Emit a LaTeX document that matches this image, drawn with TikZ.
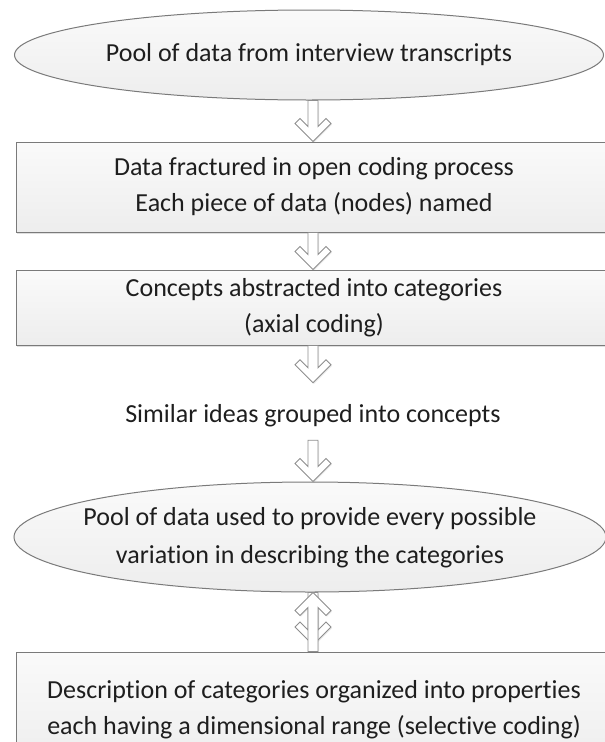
\documentclass[tikz,border=0pt]{standalone}
\usepackage{fontspec}
\setmainfont[Ligatures=NoCommon]{Carlito}
\usetikzlibrary{shapes.geometric,shadows,calc}

\definecolor{edgegray}{HTML}{7A7A7A}
\definecolor{arrowgray}{HTML}{8E8E8E}
\definecolor{inkgray}{HTML}{1E1E1E}

\tikzset{
  plain/.style={text=inkgray, font=\fontsize{26}{36}\selectfont, align=center, inner sep=0pt},
  base/.style={draw=edgegray, line width=1pt, top color=gray!4, bottom color=gray!14,
               inner sep=0pt},
  oval/.style={base, ellipse},
  stepbox/.style={base, plain, rectangle, minimum width=596pt,
                  drop shadow={shadow xshift=1.2pt, shadow yshift=-1.5pt, opacity=0.25}},
  arrowbody/.style={draw=arrowgray, fill=white, line width=0.9pt, line join=miter,
                    drop shadow={shadow xshift=1pt, shadow yshift=-1pt, opacity=0.18}}
}

% hollow block arrow from point #1 to tip #2; #3 = 1 points down, -1 points up
\newcommand{\blockarrow}[3]{%
  \path[arrowbody] let \p1=#1, \p2=#2 in
    ({\x2-5pt},\y1) -- ({\x2-5pt},{\y2+(#3)*15pt}) -- ({\x2-13pt},{\y2+(#3)*23pt})
    -- ({\x2-18pt},{\y2+(#3)*18pt}) -- (\x2,\y2) -- ({\x2+18pt},{\y2+(#3)*18pt})
    -- ({\x2+13pt},{\y2+(#3)*23pt}) -- ({\x2+5pt},{\y2+(#3)*15pt}) -- ({\x2+5pt},\y1) -- cycle;}

\begin{document}
\begin{tikzpicture}[x=1pt,y=-1pt]
  \useasboundingbox (0,0) rectangle (605,742);

  \node[oval, minimum width=589pt, minimum height=90pt,
        label={[plain]center:Pool of data from interview transcripts}] (pool) at (309,55) {};

  \node[stepbox, minimum height=90pt] (open) at (314,187)
    {Data fractured in open coding process\\Each piece of data (nodes) named};

  \node[stepbox, minimum height=75pt] (axial) at (314,307.5)
    {\fontsize{26}{33}\selectfont Concepts abstracted into categories\\(axial coding)};

  \node[minimum height=57pt, inner sep=0pt,
        label={[plain,yshift=-4pt]center:Similar ideas grouped into concepts}] (similar) at (313,411.5) {};

  \node[oval, minimum width=592pt, minimum height=110pt,
        label={[plain,font=\fontsize{26}{38}\selectfont,yshift=-1pt]center:{Pool of data used to provide every possible\\variation in describing the categories}}]
        (vary) at (310,537) {};

  \node[stepbox, minimum height=116pt] (select) at (314,710)
    {Description of categories organized into properties\\each having a dimensional range (selective coding)};

  % connectors
  \blockarrow{($(pool.south)+(4,0)$)}{($(open.north)+(-1,0)$)}{1}
  \blockarrow{($(open.south)+(-1,0)$)}{($(axial.north)+(-1,0)$)}{1}
  \blockarrow{($(axial.south)+(-1,0)$)}{(similar.north)}{1}
  \blockarrow{(similar.south)}{($(vary.north)+(3,0)$)}{1}
  \coordinate (back) at (313,645);
  \blockarrow{($(vary.south)+(3,0)$)}{(back)}{1}
  \blockarrow{($(select.north)+(-1,0)$)}{($(vary.south)+(3,0)$)}{-1}
\end{tikzpicture}
\end{document}
